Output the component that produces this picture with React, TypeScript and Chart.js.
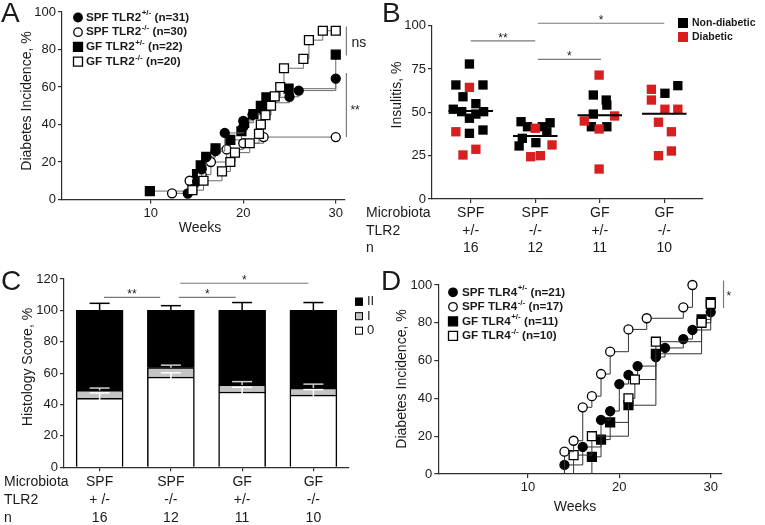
import React, { useEffect, useRef } from "react";
import { Chart, registerables } from "chart.js";

Chart.register(...registerables);

const W = 765;
const H = 525;
const FONT = "'Liberation Sans', Arial, Helvetica, sans-serif";
const INK = "#1a1a1a";
const AXIS = "#2e2e2e";
const SIG = "#7a7a7a";
const RED = "#d71f1f";
const GREY_FILL = "#c4c4c4";
const A_LINE = "#6a6a6a";
const D_LINE = "#333333";

// ================= Panel A : TLR2, diabetes incidence =================
const WEEK_TICKS = [10, 20, 30];
const A_NAMES = ["SPF TLR2", "SPF TLR2", "GF TLR2", "GF TLR2"];
const A_GENO = ["+/-", "-/-", "+/-", "-/-"];
const A_N = [31, 30, 22, 20];
const A_SPF_HET_WEEKS = [14, 15, 15.5, 16, 17, 18, 20, 20, 21, 22, 23, 25, 26, 30];
const A_SPF_HET_PCT = [3.2, 9.7, 16.1, 22.6, 25.8, 35.5, 38.7, 41.9, 45.2, 48.4, 51.6, 54.8, 58.1, 64.5];
const A_SPF_KO_WEEKS = [12.3, 14.2, 15.5, 16.5, 18.2, 20, 22.2, 30];
const A_SPF_KO_PCT = [3.3, 10, 13.3, 20, 26.7, 30, 33.3, 33.3];
const A_GF_HET_WEEKS = [9.9, 14.6, 15, 15.4, 16, 17, 18.6, 19.8, 20.1, 21.1, 21.9, 22.5, 24.9, 30];
const A_GF_HET_PCT = [4.5, 9.1, 13.6, 18.2, 22.7, 27.3, 31.8, 36.4, 40.9, 45.5, 50, 54.5, 59.1, 77.3];
const A_GF_KO_WEEKS = [14.5, 15.7, 17.7, 18.6, 19.1, 20.7, 21.7, 21.9, 22.4, 23, 23.4, 24, 24.4, 26.5, 27.1, 28.6, 30];
const A_GF_KO_PCT = [5, 10, 15, 20, 25, 30, 35, 40, 45, 50, 55, 60, 70, 75, 85, 90, 90];
const A_SIG_WEEK = 31.15;
const A_SIG_LOW = [76.8, 33.3];
const A_SIG_HIGH = [92.3, 67.5];
const A_SIG_LABEL = ["ns", "**"];

// ================= Panel B : insulitis =================
const B_MICROBIOTA = ["SPF", "SPF", "GF", "GF"];
const B_TLR2 = ["+/-", "-/-", "+/-", "-/-"];
const B_N = ["16", "12", "11", "10"];
const B_GROUP_POS = [1, 2, 3, 4];
const B_NONDIAB_X = [
  0.98, 0.77, 1.19, 0.88, 1.08, 0.73, 0.86, 0.98, 1.08, 1.2, 0.98, 1.19,
  1.78, 1.88, 2.23, 2.11, 2.18, 1.8, 1.75, 2.01,
  2.9, 3.1, 3.11, 2.9, 2.87, 3.11,
  4.01, 4.21,
];
const B_NONDIAB_Y = [
  77.9, 65.8, 65.8, 59, 55, 51.8, 50.4, 46.6, 49, 50.4, 37.9, 39.8,
  44.6, 41.7, 44, 41.7, 38.8, 35, 30.6, 32.5,
  60, 57.1, 54.2, 49, 41.7, 41.7,
  61, 65.4,
];
const B_DIAB_X = [
  0.98, 0.77, 0.88, 1.08,
  2.0, 1.93, 2.08, 2.26,
  2.99, 2.76, 3.23, 2.99, 2.99,
  3.8, 3.8, 4.01, 4.21, 3.91, 4.11, 3.91, 4.11,
];
const B_DIAB_Y = [
  64.4, 38.8, 25.4, 28.7,
  40.8, 24.4, 25, 31.2,
  71.5, 45, 47.9, 40.4, 17.3,
  63.3, 57.1, 51.8, 51.8, 44.3, 38.8, 25, 27.7,
];
const B_MEANS = [50.8, 36.4, 48.3, 49.2];
const B_SIG_FROM = [1, 2.04, 2.04];
const B_SIG_TO = [2, 3.02, 4.0];
const B_SIG_Y = [91.3, 80.6, 101.4];
const B_SIG_LABEL = ["**", "*", "*"];
const B_LEGEND = ["Non-diabetic", "Diabetic"];

// ================= Panel C : histology score =================
const C_MICROBIOTA = ["SPF", "SPF", "GF", "GF"];
const C_TLR2 = ["+ /-", "-/-", "+/-", "-/-"];
const C_N = ["16", "12", "11", "10"];
const C_SCORE0 = [44, 57.5, 48, 46];
const C_SCORE1 = [5, 6, 4.5, 4.5];
const C_SCORE2 = [51, 36.5, 47.5, 49.5];
const C_ERR0 = [3.4, 2.7, 3, 3.5];
const C_ERR1 = [1.5, 1.6, 2.1, 2.5];
const C_ERR2 = [4.5, 3, 5, 5];
const C_SIG_FROM = [0.06, 1.11, 1.13];
const C_SIG_TO = [0.85, 1.91, 2.93];
const C_SIG_Y = [108.3, 108.3, 117.3];
const C_SIG_LABEL = ["**", "*", "*"];
const C_LEGEND = ["II", "I", "0"];

// ================= Panel D : TLR4, diabetes incidence =================
const D_NAMES = ["SPF TLR4", "SPF TLR4", "GF TLR4", "GF TLR4"];
const D_GENO = ["+/-", "-/-", "+/-", "-/-"];
const D_N = [21, 17, 11, 10];
const D_SPF_HET_WEEKS = [14, 16, 18, 19, 20, 21, 22, 24, 25, 27, 28, 30];
const D_SPF_HET_PCT = [4.8, 14.3, 28.6, 33.3, 47.6, 52.4, 57.1, 61.9, 66.7, 71.4, 76.2, 85.7];
const D_SPF_KO_WEEKS = [14, 15, 16, 17, 18, 19, 21, 23, 27, 28];
const D_SPF_KO_PCT = [11.8, 17.6, 35.3, 41.2, 52.9, 64.7, 76.5, 82.4, 88.2, 100];
const D_GF_HET_WEEKS = [17, 18, 19, 21, 24, 29, 30];
const D_GF_HET_PCT = [9.1, 18.2, 27.3, 36.4, 63.6, 81.8, 90.9];
const D_GF_KO_WEEKS = [15, 17, 21, 21.7, 24, 29, 30];
const D_GF_KO_PCT = [10, 20, 40, 50, 70, 80, 90];
const D_SIG_WEEK = 31.4;
const D_SIG_LOW = [87.8];
const D_SIG_HIGH = [102.3];
const D_SIG_LABEL = ["*"];

// ================= layout =================
type Area = { left: number; top: number; right: number; bottom: number };
const AREA_A: Area = { left: 62, top: 12, right: 345, bottom: 199.5 };
const AREA_B: Area = { left: 432, top: 25.7, right: 703, bottom: 199 };
const AREA_C: Area = { left: 64, top: 279, right: 349, bottom: 467.3 };
const AREA_D: Area = { left: 438.3, top: 285, right: 721.7, bottom: 474 };
const Y_W = 40;
const X_H = 30;
const X_H_ROWS = 62;

function pad(a: Area, xH: number) {
  return { left: a.left - Y_W, top: a.top, right: W - a.right, bottom: H - a.bottom - xH };
}

const gridOpts = {
  display: true,
  drawOnChartArea: false,
  drawTicks: true,
  tickLength: 4,
  color: AXIS,
  lineWidth: 1.2,
};
const borderOpts = { display: true, color: AXIS, width: 1.2 };

function yAxis(min: number, max: number, step: number) {
  return {
    type: "linear",
    min,
    max,
    ticks: { stepSize: step, color: INK, font: { family: FONT, size: 13 }, padding: 2 },
    grid: gridOpts,
    border: borderOpts,
    afterFit: (s: any) => {
      s.width = Y_W;
    },
  };
}

function weekAxis(min: number, max: number) {
  return {
    type: "linear",
    min,
    max,
    afterBuildTicks: (s: any) => {
      s.ticks = WEEK_TICKS.map((v) => ({ value: v }));
    },
    ticks: { color: INK, font: { family: FONT, size: 13 }, padding: 2, autoSkip: false, maxRotation: 0 },
    grid: gridOpts,
    border: borderOpts,
    afterFit: (s: any) => {
      s.height = X_H;
    },
  };
}

const common = {
  responsive: false,
  animation: false,
  devicePixelRatio: 1,
  events: [],
  plugins: { legend: { display: false }, tooltip: { enabled: false } },
};

// ================= drawing helpers =================
function label(
  ctx: CanvasRenderingContext2D,
  s: string,
  x: number,
  y: number,
  size: number,
  align: CanvasTextAlign = "left",
  baseline: CanvasTextBaseline = "middle",
  bold = false,
  color = INK
) {
  ctx.font = `${bold ? "bold " : ""}${size}px ${FONT}`;
  ctx.fillStyle = color;
  ctx.textAlign = align;
  ctx.textBaseline = baseline;
  ctx.fillText(s, x, y);
}

function vLabel(ctx: CanvasRenderingContext2D, s: string, x: number, y: number, size: number) {
  ctx.save();
  ctx.translate(x, y);
  ctx.rotate(-Math.PI / 2);
  label(ctx, s, 0, 0, size, "center", "middle");
  ctx.restore();
}

function marker(ctx: CanvasRenderingContext2D, style: string, filled: boolean, x: number, y: number, size: number) {
  ctx.save();
  ctx.lineWidth = 1.3;
  ctx.strokeStyle = "#000";
  ctx.fillStyle = filled ? "#000" : "#fff";
  ctx.beginPath();
  if (style === "circle") ctx.arc(x, y, size / 2, 0, Math.PI * 2);
  else ctx.rect(x - size / 2, y - size / 2, size, size);
  ctx.fill();
  ctx.stroke();
  ctx.restore();
}

function legendEntry(ctx: CanvasRenderingContext2D, x: number, y: number, main: string, sup: string, tail: string, size: number) {
  ctx.save();
  ctx.fillStyle = INK;
  ctx.textAlign = "left";
  ctx.textBaseline = "middle";
  ctx.font = `bold ${size}px ${FONT}`;
  ctx.fillText(main, x, y);
  let cx = x + ctx.measureText(main).width + 0.5;
  ctx.font = `bold ${Math.round(size * 0.68)}px ${FONT}`;
  ctx.fillText(sup, cx, y - size * 0.36);
  cx += ctx.measureText(sup).width;
  ctx.font = `bold ${size}px ${FONT}`;
  ctx.fillText(tail, cx, y);
  ctx.restore();
}

function seg(ctx: CanvasRenderingContext2D, x1: number, y1: number, x2: number, y2: number, color: string, w: number) {
  ctx.save();
  ctx.strokeStyle = color;
  ctx.lineWidth = w;
  ctx.beginPath();
  ctx.moveTo(x1, y1);
  ctx.lineTo(x2, y2);
  ctx.stroke();
  ctx.restore();
}

function km(weeks: number[], pct: number[], style: string, filled: boolean, order: number, lineColor: string, fromZero: boolean) {
  const data = weeks.map((w, i) => ({ x: w, y: pct[i] }));
  const r = style === "circle" ? 4.5 : 6.3;
  const radii = data.map(() => r);
  if (fromZero) {
    data.unshift({ x: weeks[0], y: 0 });
    radii.unshift(0);
  }
  return {
    type: "line",
    data,
    stepped: "before",
    borderColor: lineColor,
    borderWidth: 1,
    pointStyle: style,
    pointRadius: radii,
    pointHoverRadius: radii,
    pointBackgroundColor: filled ? "#000" : "#fff",
    pointBorderColor: "#000",
    pointBorderWidth: 1.3,
    fill: false,
    tension: 0,
    order,
    clip: false,
  };
}

const A_STYLES = ["circle", "circle", "rect", "rect"];
const A_FILLED = [true, false, true, false];

// ================= plugins =================
const plugA = {
  id: "panelA",
  afterDraw(chart: any) {
    const ctx: CanvasRenderingContext2D = chart.ctx;
    const xs = chart.scales.x;
    const ys = chart.scales.y;
    ctx.save();
    label(ctx, "A", 1, 22, 28, "left", "alphabetic");
    vLabel(ctx, "Diabetes Incidence, %", 27, 101, 14);
    label(ctx, "Weeks", 200, 228, 14, "center");
    A_NAMES.forEach((n, i) => {
      const y = 17.5 + i * 14.7;
      marker(ctx, A_STYLES[i], A_FILLED[i], 78, y, A_STYLES[i] === "circle" ? 8.5 : 9);
      legendEntry(ctx, 86, y, n, A_GENO[i], ` (n=${A_N[i]})`, 11.7);
    });
    const x = xs.getPixelForValue(A_SIG_WEEK);
    A_SIG_LABEL.forEach((t, i) => {
      const y0 = ys.getPixelForValue(A_SIG_LOW[i]);
      const y1 = ys.getPixelForValue(A_SIG_HIGH[i]);
      seg(ctx, x, y0, x, y1, SIG, 1.2);
      const mid = (y0 + y1) / 2;
      if (t === "ns") label(ctx, t, x + 5, mid + 2, 14, "left", "middle");
      else label(ctx, t, x + 4, mid + 9, 12, "left", "alphabetic");
    });
    ctx.restore();
  },
};

const plugB = {
  id: "panelB",
  afterDraw(chart: any) {
    const ctx: CanvasRenderingContext2D = chart.ctx;
    const xs = chart.scales.x;
    const ys = chart.scales.y;
    ctx.save();
    label(ctx, "B", 382, 22, 28, "left", "alphabetic");
    vLabel(ctx, "Insulitis, %", 397, 95, 14);
    const colors = ["#000", RED];
    B_LEGEND.forEach((t, i) => {
      const y = 23 + i * 14;
      ctx.fillStyle = colors[i];
      ctx.fillRect(678, y - 5, 10, 10);
      label(ctx, t, 692, y, 10.5, "left", "middle", true);
    });
    const rows = ["Microbiota", "TLR2", "n"];
    const lh = 17.5;
    rows.forEach((r, i) => label(ctx, r, 366, xs.top + 4 + 1.5 + lh * (i + 0.5), 14));
    B_SIG_LABEL.forEach((t, i) => {
      const x0 = xs.getPixelForValue(B_SIG_FROM[i]);
      const x1 = xs.getPixelForValue(B_SIG_TO[i]);
      const y = ys.getPixelForValue(B_SIG_Y[i]);
      seg(ctx, x0, y, x1, y, SIG, 1.2);
      label(ctx, t, (x0 + x1) / 2, y + 1, 12, "center", "alphabetic");
    });
    ctx.restore();
  },
};

const plugC = {
  id: "panelC",
  afterDatasetsDraw(chart: any) {
    const ctx: CanvasRenderingContext2D = chart.ctx;
    const xs = chart.scales.x;
    const ys = chart.scales.y;
    ctx.save();
    C_SCORE0.forEach((v0, i) => {
      const x = xs.getPixelForValue(i);
      const cap = 10;
      const t0 = v0;
      const t1 = v0 + C_SCORE1[i];
      const t2 = t1 + C_SCORE2[i];
      const bars = [
        { top: t0, err: C_ERR0[i], color: "#ffffff" },
        { top: t1, err: C_ERR1[i], color: "#d0d0d0" },
        { top: t2, err: C_ERR2[i], color: "#000000" },
      ];
      bars.forEach((b) => {
        const yt = ys.getPixelForValue(b.top);
        const ye = ys.getPixelForValue(b.top + b.err);
        seg(ctx, x, yt + (b.color === "#ffffff" ? 3 : 0), x, ye, b.color, 1.5);
        seg(ctx, x - cap, ye, x + cap, ye, b.color, 1.5);
      });
    });
    ctx.restore();
  },
  afterDraw(chart: any) {
    const ctx: CanvasRenderingContext2D = chart.ctx;
    const xs = chart.scales.x;
    const ys = chart.scales.y;
    ctx.save();
    label(ctx, "C", 1, 290, 28, "left", "alphabetic");
    vLabel(ctx, "Histology Score, %", 28, 367, 14);
    const fills = ["#000", GREY_FILL, "#fff"];
    C_LEGEND.forEach((t, i) => {
      const y = 301.7 + i * 14.5;
      ctx.fillStyle = fills[i];
      ctx.fillRect(355, y - 4, 8, 8);
      ctx.strokeStyle = "#000";
      ctx.lineWidth = 1;
      ctx.strokeRect(355.5, y - 3.5, 7, 7);
      label(ctx, t, 367, y, 13);
    });
    const rows = ["Microbiota", "TLR2", "n"];
    const lh = 18.2;
    rows.forEach((r, i) => label(ctx, r, 4, xs.top + 4 + 1.3 + lh * (i + 0.5), 14));
    const p0 = xs.getPixelForValue(0);
    const step = xs.getPixelForValue(1) - p0;
    C_SIG_LABEL.forEach((t, i) => {
      const x0 = p0 + C_SIG_FROM[i] * step;
      const x1 = p0 + C_SIG_TO[i] * step;
      const y = ys.getPixelForValue(C_SIG_Y[i]);
      seg(ctx, x0, y, x1, y, SIG, 1.2);
      label(ctx, t, (x0 + x1) / 2, y + 1, 12, "center", "alphabetic");
    });
    ctx.restore();
  },
};

const plugD = {
  id: "panelD",
  afterDraw(chart: any) {
    const ctx: CanvasRenderingContext2D = chart.ctx;
    const xs = chart.scales.x;
    const ys = chart.scales.y;
    ctx.save();
    label(ctx, "D", 381, 290, 28, "left", "alphabetic");
    vLabel(ctx, "Diabetes Incidence, %", 402, 379, 14);
    label(ctx, "Weeks", 575, 507, 14, "center");
    D_NAMES.forEach((n, i) => {
      const y = 292.3 + i * 14.5;
      marker(ctx, A_STYLES[i], A_FILLED[i], 453, y, A_STYLES[i] === "circle" ? 8.5 : 9);
      legendEntry(ctx, 462, y, n, D_GENO[i], ` (n=${D_N[i]})`, 11.7);
    });
    const x = xs.getPixelForValue(D_SIG_WEEK);
    D_SIG_LABEL.forEach((t, i) => {
      const y0 = ys.getPixelForValue(D_SIG_LOW[i]);
      const y1 = ys.getPixelForValue(D_SIG_HIGH[i]);
      seg(ctx, x, y0, x, y1, SIG, 1.2);
      label(ctx, t, x + 3, (y0 + y1) / 2 + 6, 12, "left", "alphabetic");
    });
    ctx.restore();
  },
};

// ================= configs =================
function configA(): any {
  return {
    type: "line",
    data: {
      datasets: [
        km(A_GF_KO_WEEKS, A_GF_KO_PCT, "rect", false, 0, A_LINE, false),
        km(A_SPF_HET_WEEKS, A_SPF_HET_PCT, "circle", true, 1, A_LINE, false),
        km(A_SPF_KO_WEEKS, A_SPF_KO_PCT, "circle", false, 2, A_LINE, false),
        km(A_GF_HET_WEEKS, A_GF_HET_PCT, "rect", true, 3, A_LINE, false),
      ],
    },
    options: {
      ...common,
      layout: { padding: pad(AREA_A, X_H) },
      scales: { x: weekAxis(0.4, 31), y: yAxis(0, 100, 20) },
    },
    plugins: [plugA],
  };
}

function configB(): any {
  const meanSets = B_MEANS.map((m, i) => ({
    type: "line",
    data: [
      { x: B_GROUP_POS[i] - 0.345, y: m },
      { x: B_GROUP_POS[i] + 0.345, y: m },
    ],
    showLine: true,
    borderColor: "#000",
    borderWidth: 2,
    pointRadius: 0,
    order: 0,
    clip: false,
  }));
  return {
    type: "scatter",
    data: {
      datasets: [
        ...meanSets,
        {
          label: "Diabetic",
          data: B_DIAB_X.map((x, i) => ({ x, y: B_DIAB_Y[i] })),
          pointStyle: "rect",
          pointRadius: 6.6,
          backgroundColor: RED,
          pointBackgroundColor: RED,
          pointBorderColor: RED,
          pointBorderWidth: 0,
          order: 1,
          clip: false,
        },
        {
          label: "Non-diabetic",
          data: B_NONDIAB_X.map((x, i) => ({ x, y: B_NONDIAB_Y[i] })),
          pointStyle: "rect",
          pointRadius: 6.6,
          backgroundColor: "#000",
          pointBackgroundColor: "#000",
          pointBorderColor: "#000",
          pointBorderWidth: 0,
          order: 2,
          clip: false,
        },
      ],
    },
    options: {
      ...common,
      layout: { padding: pad(AREA_B, X_H_ROWS) },
      scales: {
        x: {
          type: "linear",
          min: 0.4,
          max: 4.6,
          afterBuildTicks: (s: any) => {
            s.ticks = B_GROUP_POS.map((v) => ({ value: v }));
          },
          ticks: {
            callback: (_v: any, i: number) => [B_MICROBIOTA[i], B_TLR2[i], B_N[i]],
            color: INK,
            font: { family: FONT, size: 14, lineHeight: 1.25 },
            padding: 1.5,
            autoSkip: false,
            maxRotation: 0,
          },
          grid: gridOpts,
          border: borderOpts,
          afterFit: (s: any) => {
            s.height = X_H_ROWS;
          },
        },
        y: yAxis(0, 100, 25),
      },
    },
    plugins: [plugB],
  };
}

function configC(): any {
  return {
    type: "bar",
    data: {
      labels: C_MICROBIOTA.map((m, i) => [m, C_TLR2[i], C_N[i]]),
      datasets: [
        { label: "0", data: C_SCORE0, backgroundColor: "#fff", borderColor: "#000", borderWidth: 1.5, barThickness: 47 },
        { label: "I", data: C_SCORE1, backgroundColor: GREY_FILL, borderColor: "#000", borderWidth: 1.5, barThickness: 47 },
        { label: "II", data: C_SCORE2, backgroundColor: "#000", borderColor: "#000", borderWidth: 1.5, barThickness: 47 },
      ],
    },
    options: {
      ...common,
      layout: { padding: pad(AREA_C, X_H_ROWS - 5) },
      scales: {
        x: {
          type: "category",
          stacked: true,
          offset: true,
          ticks: {
            color: INK,
            font: { family: FONT, size: 14, lineHeight: 1.3 },
            padding: 1.3,
            autoSkip: false,
            maxRotation: 0,
          },
          grid: { ...gridOpts, offset: false },
          border: borderOpts,
          afterFit: (s: any) => {
            s.height = X_H_ROWS - 5;
          },
        },
        y: { ...yAxis(0, 120, 20), stacked: true },
      },
    },
    plugins: [plugC],
  };
}

function configD(): any {
  return {
    type: "line",
    data: {
      datasets: [
        km(D_SPF_KO_WEEKS, D_SPF_KO_PCT, "circle", false, 0, D_LINE, true),
        km(D_GF_KO_WEEKS, D_GF_KO_PCT, "rect", false, 1, D_LINE, true),
        km(D_SPF_HET_WEEKS, D_SPF_HET_PCT, "circle", true, 2, D_LINE, true),
        km(D_GF_HET_WEEKS, D_GF_HET_PCT, "rect", true, 3, D_LINE, true),
      ],
    },
    options: {
      ...common,
      layout: { padding: pad(AREA_D, X_H) },
      scales: { x: weekAxis(0.2, 31.2), y: yAxis(0, 100, 20) },
    },
    plugins: [plugD],
  };
}

export default function App() {
  const rA = useRef<HTMLCanvasElement>(null);
  const rB = useRef<HTMLCanvasElement>(null);
  const rC = useRef<HTMLCanvasElement>(null);
  const rD = useRef<HTMLCanvasElement>(null);

  useEffect(() => {
    const charts = [
      new Chart(rA.current as HTMLCanvasElement, configA()),
      new Chart(rB.current as HTMLCanvasElement, configB()),
      new Chart(rC.current as HTMLCanvasElement, configC()),
      new Chart(rD.current as HTMLCanvasElement, configD()),
    ];
    return () => charts.forEach((c) => c.destroy());
  }, []);

  const cs: React.CSSProperties = { position: "absolute", left: 0, top: 0, width: W, height: H };
  return (
    <div style={{ position: "fixed", left: 0, top: 0, width: W, height: H, background: "#fff" }}>
      <canvas ref={rA} width={W} height={H} style={cs} />
      <canvas ref={rB} width={W} height={H} style={cs} />
      <canvas ref={rC} width={W} height={H} style={cs} />
      <canvas ref={rD} width={W} height={H} style={cs} />
    </div>
  );
}
